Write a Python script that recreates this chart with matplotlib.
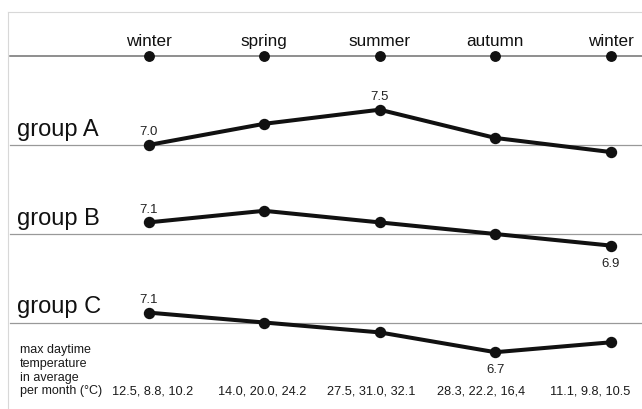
import matplotlib.pyplot as plt

# ── DATA ───────────────────────────────────────────────────────────
SEASONS = ["winter", "spring", "summer", "autumn", "winter"]
GROUP_NAMES = ["group A", "group B", "group C"]
GROUP_A = [7.0, 7.3, 7.5, 7.1, 6.9]
GROUP_B = [7.1, 7.2, 7.1, 7.0, 6.9]
GROUP_C = [7.1, 7.0, 6.9, 6.7, 6.8]
# which points carry a value label, and on which side
LABELS_A = [(0, "above"), (2, "above")]
LABELS_B = [(0, "above"), (4, "below")]
LABELS_C = [(0, "above"), (3, "below")]
BASE_VALUE = 7.0
CAPTION = ["max daytime", "temperature", "in average", "per month (\u00b0C)"]
MONTHLY_MAX = ["12.5, 8.8, 10.2", "14.0, 20.0, 24.2", "27.5, 31.0, 32.1",
               "28.3, 22.2, 16,4", "11.1, 9.8, 10.5"]

# ── LAYOUT (pixels of the 642x410 canvas) ─────────────────────────
W, H = 642, 410
X0, STEP = 148.5, 115.6          # pixel x of first season, spacing
SEASON_LINE_Y = 56.7
# (baseline pixel y, pixels per unit)
GROUP_LAYOUT = [(146.0, 70.6), (235.0, 116.0), (323.5, 99.0)]
CAPTION_X = 19.5
CAPTION_Y = [353.3, 367.0, 380.7, 394.3]
MONTH_X = [153, 262, 371.5, 481, 590]

INK = "#111111"
plt.rcParams["font.family"] = ["Liberation Sans", "DejaVu Sans"]

fig = plt.figure(figsize=(W / 100, H / 100), dpi=100)
xlim = (-X0 / STEP, (W - X0) / STEP)

# background / frame axes in pixel coordinates
bg = fig.add_axes([0, 0, 1, 1])
bg.set_xlim(0, W)
bg.set_ylim(H, 0)
bg.axis("off")
bg.plot([8, W], [13, 13], color="#d8d8d8", lw=0.8)
bg.plot([8, 8], [13, H], color="#d8d8d8", lw=0.8)
for text, y in zip(CAPTION, CAPTION_Y):
    bg.text(CAPTION_X, y, text, fontsize=9, color="#1a1a1a", va="baseline", ha="left")
for text, x in zip(MONTHLY_MAX, MONTH_X):
    bg.text(x, CAPTION_Y[-1], text, fontsize=9.2, color="#1a1a1a", va="baseline", ha="center")

# season row
top = fig.add_axes([0, 0, 1, 1])
top.patch.set_alpha(0)
top.set_xlim(*xlim)
top.set_ylim(H, 0)
top.axis("off")
top.plot([xlim[0] + 10 / STEP, xlim[1]], [SEASON_LINE_Y] * 2, color="#707070", lw=1.1)
top.plot(range(len(SEASONS)), [SEASON_LINE_Y] * len(SEASONS), "o", color=INK, ms=6.8)
for i, s in enumerate(SEASONS):
    top.annotate(s, (i, SEASON_LINE_Y), xytext=(0, 8), textcoords="offset points",
                 ha="center", va="baseline", fontsize=12.3, color=INK)

# one axes per group, each with its own vertical scale
groups = [GROUP_A, GROUP_B, GROUP_C]
labels = [LABELS_A, LABELS_B, LABELS_C]
for name, values, marks, (base_y, scale) in zip(GROUP_NAMES, groups, labels, GROUP_LAYOUT):
    ax = fig.add_axes([0, 0, 1, 1])
    ax.patch.set_alpha(0)
    ax.axis("off")
    ax.set_xlim(*xlim)
    ax.set_ylim(BASE_VALUE - (H - base_y) / scale, BASE_VALUE + base_y / scale)

    ax.axhline(BASE_VALUE, xmin=10 / W, xmax=1, color="#999999", lw=0.9, zorder=1)
    ax.plot(range(len(values)), values, "-o", color=INK, lw=2.9, ms=7.2, zorder=3)
    ax.annotate(name, (17 / W, BASE_VALUE), xycoords=("axes fraction", "data"),
                xytext=(0, 7.2), textcoords="offset points",
                ha="left", va="baseline", fontsize=17, color=INK)
    for idx, side in marks:
        if side == "above":
            ax.annotate(f"{values[idx]:.1f}", (idx, values[idx]), xytext=(0, 7.6),
                        textcoords="offset points", ha="center", va="baseline",
                        fontsize=9.5, color="#222222")
        else:
            ax.annotate(f"{values[idx]:.1f}", (idx, values[idx]), xytext=(0, -8.0),
                        textcoords="offset points", ha="center", va="top",
                        fontsize=9.5, color="#222222")

fig.savefig("out.png", dpi=100)
